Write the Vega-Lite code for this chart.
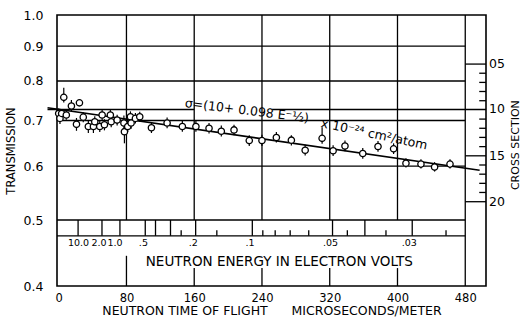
{
  "$schema": "https://vega.github.io/schema/vega-lite/v6.json",
  "width": 429,
  "height": 271,
  "autosize": "none",
  "padding": {"left": 57, "top": 15, "right": 38, "bottom": 34},
  "background": "white",
  "config": {
    "view": {"stroke": "black", "strokeWidth": 1.6},
    "font": "DejaVu Sans",
    "axis": {"labelColor": "black", "titleColor": "black", "labelFont": "DejaVu Sans", "titleFont": "DejaVu Sans", "titleFontWeight": "normal", "ticks": false, "domain": false, "grid": false}
  },
  "datasets": {
    "pts": [
      {"t": 0, "T": 0.717, "lo": 0.706, "hi": 0.729},
      {"t": 1.5, "T": 0.705, "lo": 0.692, "hi": 0.716},
      {"t": 3.5, "T": 0.717, "lo": 0.707, "hi": 0.728},
      {"t": 6, "T": 0.757, "lo": 0.744, "hi": 0.782},
      {"t": 9, "T": 0.713, "lo": 0.702, "hi": 0.724},
      {"t": 15, "T": 0.735, "lo": 0.722, "hi": 0.75},
      {"t": 21, "T": 0.691, "lo": 0.676, "hi": 0.706},
      {"t": 24.5, "T": 0.743, "lo": null, "hi": null},
      {"t": 29, "T": 0.708, "lo": 0.696, "hi": 0.72},
      {"t": 35, "T": 0.686, "lo": 0.671, "hi": 0.699},
      {"t": 41, "T": 0.686, "lo": 0.671, "hi": 0.699},
      {"t": 42.6, "T": 0.697, "lo": 0.685, "hi": 0.71},
      {"t": 48.5, "T": 0.686, "lo": 0.673, "hi": 0.699},
      {"t": 51.3, "T": 0.713, "lo": 0.7, "hi": 0.728},
      {"t": 54, "T": 0.69, "lo": 0.677, "hi": 0.703},
      {"t": 61, "T": 0.713, "lo": 0.7, "hi": 0.726},
      {"t": 62, "T": 0.697, "lo": 0.684, "hi": 0.71},
      {"t": 69, "T": 0.701, "lo": 0.688, "hi": 0.714},
      {"t": 77, "T": 0.694, "lo": 0.681, "hi": 0.712},
      {"t": 77.6, "T": 0.674, "lo": 0.648, "hi": 0.688},
      {"t": 81.5, "T": 0.686, "lo": 0.673, "hi": 0.699},
      {"t": 84.7, "T": 0.709, "lo": 0.697, "hi": 0.722},
      {"t": 85.5, "T": 0.694, "lo": 0.681, "hi": 0.706},
      {"t": 90.6, "T": 0.705, "lo": 0.693, "hi": 0.718},
      {"t": 95.7, "T": 0.709, "lo": 0.697, "hi": 0.721},
      {"t": 109.5, "T": 0.683, "lo": 0.671, "hi": 0.695},
      {"t": 128, "T": 0.694, "lo": 0.682, "hi": 0.707},
      {"t": 146, "T": 0.686, "lo": 0.674, "hi": 0.699},
      {"t": 162, "T": 0.686, "lo": 0.674, "hi": 0.699},
      {"t": 177.5, "T": 0.682, "lo": 0.67, "hi": 0.694},
      {"t": 192, "T": 0.675, "lo": 0.663, "hi": 0.688},
      {"t": 207, "T": 0.678, "lo": 0.666, "hi": 0.69},
      {"t": 225, "T": 0.654, "lo": 0.642, "hi": 0.666},
      {"t": 240, "T": 0.654, "lo": 0.642, "hi": 0.667},
      {"t": 257, "T": 0.661, "lo": 0.65, "hi": 0.673},
      {"t": 274.7, "T": 0.655, "lo": 0.643, "hi": 0.666},
      {"t": 291, "T": 0.633, "lo": 0.622, "hi": 0.645},
      {"t": 311, "T": 0.659, "lo": 0.647, "hi": 0.684},
      {"t": 324, "T": 0.632, "lo": 0.621, "hi": 0.644},
      {"t": 338, "T": 0.642, "lo": 0.631, "hi": 0.654},
      {"t": 359, "T": 0.626, "lo": 0.615, "hi": 0.638},
      {"t": 377, "T": 0.641, "lo": 0.63, "hi": 0.653},
      {"t": 395.4, "T": 0.636, "lo": 0.625, "hi": 0.648},
      {"t": 410, "T": 0.606, "lo": 0.597, "hi": 0.616},
      {"t": 427.7, "T": 0.604, "lo": 0.595, "hi": 0.614},
      {"t": 443.8, "T": 0.598, "lo": 0.589, "hi": 0.608},
      {"t": 462, "T": 0.604, "lo": 0.595, "hi": 0.614}
    ],
    "fit": [
      {"t": -13.2, "T": 0.731},
      {"t": 497, "T": 0.5915}
    ],
    "hr": [
      {"T": 0.9, "t1": -2, "t2": 480},
      {"T": 0.8, "t1": -2, "t2": 480},
      {"T": 0.7, "t1": -2, "t2": 480},
      {"T": 0.6, "t1": -2, "t2": 480},
      {"T": 0.5, "t1": -2, "t2": 480},
      {"T": 0.474, "t1": -2, "t2": 480},
      {"T": 0.7265, "t1": -13.2, "t2": 160},
      {"T": 0.7265, "t1": 252, "t2": 504.5},
      {"T": 0.8471, "t1": 480, "t2": 504.5},
      {"T": 0.6212, "t1": 480, "t2": 504.5},
      {"T": 0.5319, "t1": 480, "t2": 504.5},
      {"T": 0.8213, "t1": 496.5, "t2": 504.5},
      {"T": 0.7962, "t1": 496.5, "t2": 504.5},
      {"T": 0.7721, "t1": 496.5, "t2": 504.5},
      {"T": 0.7484, "t1": 496.5, "t2": 504.5},
      {"T": 0.7033, "t1": 496.5, "t2": 504.5},
      {"T": 0.6818, "t1": 496.5, "t2": 504.5},
      {"T": 0.6611, "t1": 496.5, "t2": 504.5},
      {"T": 0.6408, "t1": 496.5, "t2": 504.5},
      {"T": 0.6022, "t1": 496.5, "t2": 504.5},
      {"T": 0.5838, "t1": 496.5, "t2": 504.5},
      {"T": 0.566, "t1": 496.5, "t2": 504.5},
      {"T": 0.5488, "t1": 496.5, "t2": 504.5}
    ],
    "vr": [
      {"t": 80, "T1": 0.5, "T2": 1.0},
      {"t": 160, "T1": 0.5, "T2": 1.0},
      {"t": 240, "T1": 0.5, "T2": 1.0},
      {"t": 320, "T1": 0.5, "T2": 1.0},
      {"t": 400, "T1": 0.5, "T2": 1.0},
      {"t": 480, "T1": 0.4, "T2": 1.0},
      {"t": 80, "T1": 0.4, "T2": 0.443},
      {"t": 160, "T1": 0.4, "T2": 0.425},
      {"t": 240, "T1": 0.4, "T2": 0.425},
      {"t": 320, "T1": 0.4, "T2": 0.425},
      {"t": 400, "T1": 0.4, "T2": 0.425},
      {"t": 22.9, "T1": 0.474, "T2": 0.5},
      {"t": 51.1, "T1": 0.474, "T2": 0.5},
      {"t": 72.3, "T1": 0.474, "T2": 0.5},
      {"t": 102.2, "T1": 0.474, "T2": 0.5},
      {"t": 114.3, "T1": 0.474, "T2": 0.5},
      {"t": 132.0, "T1": 0.474, "T2": 0.5},
      {"t": 161.7, "T1": 0.474, "T2": 0.5},
      {"t": 228.6, "T1": 0.474, "T2": 0.5},
      {"t": 323.3, "T1": 0.474, "T2": 0.5},
      {"t": 361.5, "T1": 0.474, "T2": 0.5},
      {"t": 417.4, "T1": 0.474, "T2": 0.5},
      {"t": 144.6, "T1": 0.474, "T2": 0.483},
      {"t": 186.7, "T1": 0.474, "T2": 0.483},
      {"t": 241.0, "T1": 0.474, "T2": 0.483},
      {"t": 255.6, "T1": 0.474, "T2": 0.483},
      {"t": 273.3, "T1": 0.474, "T2": 0.483},
      {"t": 295.2, "T1": 0.474, "T2": 0.483},
      {"t": 340.8, "T1": 0.474, "T2": 0.483},
      {"t": 386.4, "T1": 0.474, "T2": 0.483},
      {"t": 457.3, "T1": 0.474, "T2": 0.483}
    ],
    "elab": [
      {"t": 23.4, "T": 0.4626, "text": "10.0"},
      {"t": 47.6, "T": 0.4626, "text": "2.0"},
      {"t": 66.4, "T": 0.4626, "text": "1.0"},
      {"t": 100, "T": 0.4626, "text": ".5"},
      {"t": 159, "T": 0.4626, "text": ".2"},
      {"t": 226, "T": 0.4626, "text": ".1"},
      {"t": 321, "T": 0.4626, "text": ".05"},
      {"t": 414, "T": 0.4626, "text": ".03"}
    ],
    "etitle": [{"t": 260.5, "T": 0.4343, "text": "NEUTRON ENERGY IN ELECTRON VOLTS"}],
    "slab": [
      {"t": 504.5, "T": 0.8471, "text": "05"},
      {"t": 504.5, "T": 0.7265, "text": "10"},
      {"t": 504.5, "T": 0.6212, "text": "15"},
      {"t": 504.5, "T": 0.5319, "text": "20"}
    ],
    "stitle": [{"t": 540.5, "T": 0.644, "text": "CROSS SECTION"}],
    "ann1": [{"t": 148.5, "T": 0.7325, "text": "σ=(10+ 0.098 E⁻½)"}],
    "ann2": [{"t": 308.9, "T": 0.6848, "text": "x 10⁻²⁴ cm²/atom"}]
  },
  "layer": [
    {
      "data": {"name": "hr"},
      "mark": {"type": "rule", "color": "black", "strokeWidth": 1.3},
      "encoding": {
        "y": {"field": "T", "type": "quantitative", "scale": {"type": "log", "domain": [0.4, 1.0], "nice": false},
          "axis": {"orient": "left", "values": [0.4, 0.5, 0.6, 0.7, 0.8, 0.9, 1.0], "format": ".1f", "labelFontSize": 12.5, "labelPadding": 14, "title": "TRANSMISSION", "titleFontSize": 11.5, "titlePadding": 7}},
        "x": {"field": "t1", "type": "quantitative", "scale": {"domain": [-2, 504.5], "nice": false, "zero": false},
          "axis": {"orient": "bottom", "values": [0, 80, 160, 240, 320, 400, 480], "labelFontSize": 11.5, "labelPadding": 6, "title": "NEUTRON TIME OF FLIGHT\u00a0\u00a0\u00a0\u00a0\u00a0\u00a0MICROSECONDS/METER", "titleFontSize": 12.5, "titlePadding": 1}},
        "x2": {"field": "t2"}
      }
    },
    {
      "data": {"name": "vr"},
      "mark": {"type": "rule", "color": "black", "strokeWidth": 1.3},
      "encoding": {
        "x": {"field": "t", "type": "quantitative"},
        "y": {"field": "T1", "type": "quantitative"},
        "y2": {"field": "T2"}
      }
    },
    {
      "data": {"name": "fit"},
      "mark": {"type": "line", "color": "black", "strokeWidth": 1.6},
      "encoding": {
        "x": {"field": "t", "type": "quantitative"},
        "y": {"field": "T", "type": "quantitative"}
      }
    },
    {
      "data": {"name": "pts"},
      "transform": [{"filter": "datum.lo != null"}],
      "mark": {"type": "rule", "color": "black", "strokeWidth": 1.2},
      "encoding": {
        "x": {"field": "t", "type": "quantitative"},
        "y": {"field": "lo", "type": "quantitative"},
        "y2": {"field": "hi"}
      }
    },
    {
      "data": {"name": "pts"},
      "mark": {"type": "point", "shape": "circle", "filled": true, "fill": "white", "stroke": "black", "strokeWidth": 1.3, "size": 40, "opacity": 1},
      "encoding": {
        "x": {"field": "t", "type": "quantitative"},
        "y": {"field": "T", "type": "quantitative"}
      }
    },
    {
      "data": {"name": "elab"},
      "mark": {"type": "text", "fontSize": 9.5, "align": "center", "baseline": "middle", "color": "black"},
      "encoding": {
        "x": {"field": "t", "type": "quantitative"},
        "y": {"field": "T", "type": "quantitative"},
        "text": {"field": "text"}
      }
    },
    {
      "data": {"name": "etitle"},
      "mark": {"type": "text", "fontSize": 13.5, "align": "center", "baseline": "middle", "color": "black"},
      "encoding": {
        "x": {"field": "t", "type": "quantitative"},
        "y": {"field": "T", "type": "quantitative"},
        "text": {"field": "text"}
      }
    },
    {
      "data": {"name": "slab"},
      "mark": {"type": "text", "fontSize": 12.5, "align": "left", "baseline": "middle", "dx": 3, "color": "black"},
      "encoding": {
        "x": {"field": "t", "type": "quantitative"},
        "y": {"field": "T", "type": "quantitative"},
        "text": {"field": "text"}
      }
    },
    {
      "data": {"name": "stitle"},
      "mark": {"type": "text", "fontSize": 11, "align": "center", "baseline": "middle", "angle": 270, "color": "black"},
      "encoding": {
        "x": {"field": "t", "type": "quantitative"},
        "y": {"field": "T", "type": "quantitative"},
        "text": {"field": "text"}
      }
    },
    {
      "data": {"name": "ann1"},
      "mark": {"type": "text", "fontSize": 12.5, "align": "left", "baseline": "alphabetic", "angle": 7, "color": "black"},
      "encoding": {
        "x": {"field": "t", "type": "quantitative"},
        "y": {"field": "T", "type": "quantitative"},
        "text": {"field": "text"}
      }
    },
    {
      "data": {"name": "ann2"},
      "mark": {"type": "text", "fontSize": 12.5, "align": "left", "baseline": "alphabetic", "angle": 12, "color": "black"},
      "encoding": {
        "x": {"field": "t", "type": "quantitative"},
        "y": {"field": "T", "type": "quantitative"},
        "text": {"field": "text"}
      }
    }
  ]
}
